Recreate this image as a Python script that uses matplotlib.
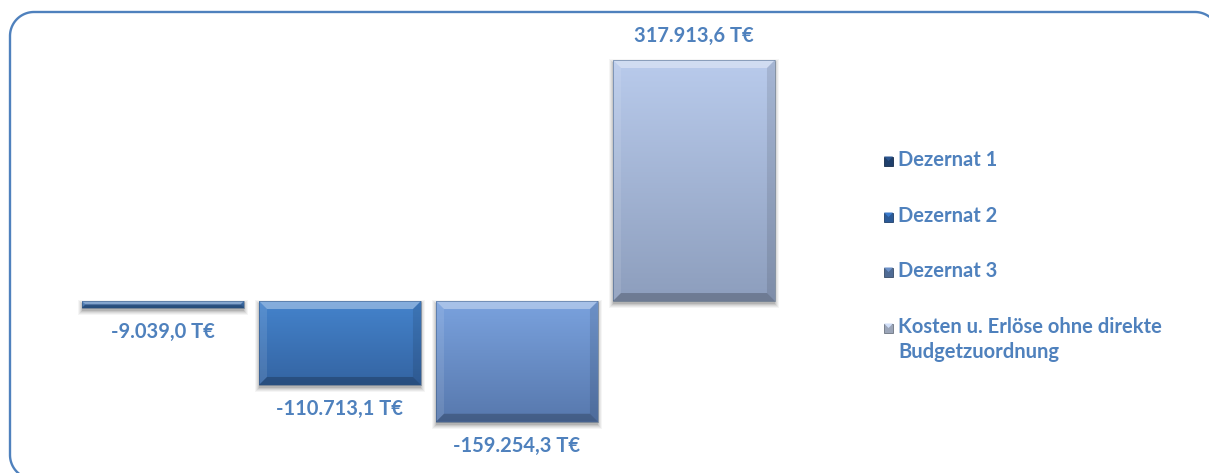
import numpy as np
import matplotlib
matplotlib.use("Agg")
import matplotlib.pyplot as plt
from matplotlib.patches import Polygon, Rectangle
from matplotlib.lines import Line2D
from matplotlib.transforms import IdentityTransform
from matplotlib.colors import to_rgb

# ---- data ----
categories = ["Dezernat 1", "Dezernat 2", "Dezernat 3",
              "Kosten u. Erlöse ohne direkte\nBudgetzuordnung"]
values = [-9039.0, -110713.1, -159254.3, 317913.6]
bar_top_colors = ["#4a7fc0", "#4483cc", "#7aa2de", "#b9cbec"]
bar_bottom_colors = ["#2f5e98", "#3464a2", "#5778ad", "#8d9ebd"]
legend_colors = ["#1f3f6b", "#2b5a97", "#4f6b94", "#9ba5b8"]
text_color = "#4f81bd"

W, H = 1209, 473
plt.rcParams['font.family'] = ['Lato', 'DejaVu Sans']
fig = plt.figure(figsize=(W / 100, H / 100), dpi=100)

ax = fig.add_axes([40 / W, 13 / H, 800 / W, 440 / H])
ax.set_xlim(-0.695, 3.825)
ax.set_ylim(-209700, 370700)
ax.axis("off")

x = np.arange(len(values))
bars = ax.bar(x, values, width=0.915, color=bar_top_colors, edgecolor="none", zorder=2)

fig.canvas.draw()
ident = IdentityTransform()

def fmt(v):
    s = f"{v:,.1f}".replace(",", "X").replace(".", ",").replace("X", ".")
    return s + " T€"

def add(artist):
    artist.set_clip_on(False)
    ax.add_artist(artist)

for i, (b, v) in enumerate(zip(bars, values)):
    x0, x1 = b.get_x(), b.get_x() + b.get_width()
    y0, y1 = sorted([0, v])
    ext = b.get_window_extent()
    L, R, B, T = ext.x0, ext.x1, ext.y0, ext.y1
    # soft shadow (behind bar)
    for k, a in [(5, 0.04), (4, 0.05), (3, 0.06), (2, 0.08), (1, 0.10)]:
        add(Rectangle((L - k + 1, B - k - 2), (R - L) + 2 * k - 2, (T - B) + 2 * k - 2,
                      transform=ident, facecolor="black", alpha=a, edgecolor="none", zorder=1))
    # gradient fill
    c0 = np.array(to_rgb(bar_top_colors[i]))
    c1 = np.array(to_rgb(bar_bottom_colors[i]))
    t = np.linspace(0, 1, 100)[:, None]
    grad = (c0[None, :] * (1 - t) + c1[None, :] * t)[:, None, :]
    im = ax.imshow(grad, extent=[x0, x1, y0, y1], aspect="auto", origin="upper",
                   zorder=3, interpolation="bilinear")
    im.set_clip_path(b)
    # bevel
    bv = min(8, (T - B) / 2.0)
    polys = [
        ([(L, T), (R, T), (R - bv, T - bv), (L + bv, T - bv)], "white", 0.35),
        ([(L, T), (L + bv, T - bv), (L + bv, B + bv), (L, B)], "white", 0.10),
        ([(R, T), (R, B), (R - bv, B + bv), (R - bv, T - bv)], "black", 0.10),
        ([(L, B), (L + bv, B + bv), (R - bv, B + bv), (R, B)], "black", 0.22),
    ]
    for pts, col, a in polys:
        add(Polygon(pts, closed=True, transform=ident, facecolor=col,
                    alpha=a, edgecolor="none", zorder=4))
    add(Rectangle((L, B), R - L, T - B, transform=ident, facecolor="none",
                  edgecolor="#2b4a72", lw=0.6, alpha=0.5, zorder=5))
    # value label
    off = 24 if v > 0 else -24
    ax.annotate(fmt(v), xy=(x[i], v), xytext=(0, off), textcoords="offset pixels",
                ha="center", va="center", fontsize=14.5, fontweight="bold",
                color=text_color, zorder=6)

# legend
legend_y = [161, 217, 272, 328]
for lab, col, yy in zip(categories, legend_colors, legend_y):
    fy = H - yy
    lines = lab.split("\n")
    sq_y = fy - 4.5
    c = np.array(to_rgb(col))
    fig.add_artist(Rectangle((884, sq_y), 9, 9, transform=ident,
                             facecolor=col, edgecolor=tuple(c * 0.7), lw=0.6))
    fig.add_artist(Polygon([(884, sq_y + 9), (893, sq_y + 9), (888.5, sq_y + 4.5)],
                           transform=ident, facecolor=tuple(np.minimum(c * 1.35, 1)),
                           edgecolor="none"))
    fig.text(898 / W, (fy + 1) / H, lines[0], ha="left", va="center", fontsize=14.5,
             fontweight="bold", color=text_color)
    if len(lines) > 1:
        fig.text(898 / W, (fy + 1 - 25) / H, lines[1], ha="left", va="center", fontsize=14.5,
                 fontweight="bold", color=text_color)

# rounded frame (open path, partly running off the canvas like the original)
fl, fr, fb, ft, rr = 10.0, 1219.0, -6.0, 461.0, 24.0
def arc(cx, cy, a0, a1, n=30):
    a = np.radians(np.linspace(a0, a1, n))
    return list(zip(cx + rr * np.cos(a), cy + rr * np.sin(a)))
pts = (arc(fl + rr, fb + rr, 270, 180) + arc(fl + rr, ft - rr, 180, 90)
       + arc(fr - rr, ft - rr, 90, 0))
px, py = zip(*pts)
fig.add_artist(Line2D(px, py, transform=ident, color="#4f81bd", lw=1.7,
                      solid_capstyle="round"))

fig.savefig("out.png", dpi=100)
